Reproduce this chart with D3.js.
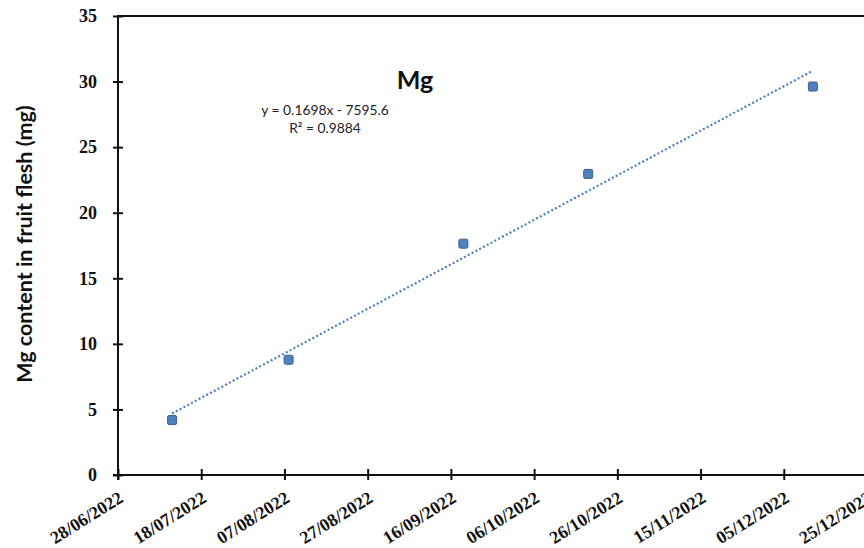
<!DOCTYPE html>
<html>
<head>
<meta charset="utf-8">
<script src="https://cdn.jsdelivr.net/npm/d3@7"></script>
<style>
  html, body { margin: 0; padding: 0; background: #fff; overflow: hidden; }
  svg { display: block; }
</style>
</head>
<body>
<svg id="chart" width="864" height="548"></svg>
<script>
// Sampling dates and magnesium content of the fruit flesh
const sampleDates = ["11/07/2022", "08/08/2022", "19/09/2022", "19/10/2022", "12/12/2022"];
const mgValues = [4.19, 8.79, 17.64, 22.96, 29.62];

// Axis ticks
const xTickLabels = ["28/06/2022", "18/07/2022", "07/08/2022", "27/08/2022", "16/09/2022",
                     "06/10/2022", "26/10/2022", "15/11/2022", "05/12/2022", "25/12/2022"];
const yTickValues = [0, 5, 10, 15, 20, 25, 30, 35];

const titleText = "Mg";
const yAxisTitle = "Mg content in fruit flesh (mg)";
const equationLines = ["y = 0.1698x - 7595.6", "R\u00B2 = 0.9884"];

const parse = d3.utcParse("%d/%m/%Y");
const points = sampleDates.map((d, i) => ({ date: parse(d), value: mgValues[i] }));
const xTicks = xTickLabels.map(parse);

const svg = d3.select("#chart");
const plot = { left: 118, top: 16, right: 867, bottom: 475 };

const x = d3.scaleUtc()
  .domain([xTicks[0], xTicks[xTicks.length - 1]])
  .range([plot.left, plot.right]);
const y = d3.scaleLinear()
  .domain([0, 35])
  .range([plot.bottom, plot.top]);

// Plot frame (right side runs past the visible area)
svg.append("rect")
  .attr("x", plot.left).attr("y", plot.top)
  .attr("width", plot.right - plot.left + 40)
  .attr("height", plot.bottom - plot.top)
  .attr("fill", "none").attr("stroke", "#111").attr("stroke-width", 2);

// Y axis
const yAxis = svg.append("g")
  .attr("transform", `translate(${plot.left},0)`)
  .call(d3.axisLeft(y).tickValues(yTickValues).tickFormat(d3.format("d")).tickSizeOuter(0).tickPadding(15));
yAxis.select(".domain").attr("stroke", "#111").attr("stroke-width", 2)
  .attr("d", `M0,${plot.top}V${plot.bottom + 5}`);
yAxis.selectAll(".tick line").attr("x1", -5).attr("x2", 5).attr("stroke", "#111").attr("stroke-width", 2);
yAxis.selectAll(".tick text")
  .attr("font-family", "'Liberation Serif', 'Times New Roman', serif")
  .attr("font-weight", "bold").attr("font-size", 18).attr("fill", "#111");

// X axis
const xAxis = svg.append("g")
  .attr("transform", `translate(0,${plot.bottom})`)
  .call(d3.axisBottom(x).tickValues(xTicks).tickFormat(d3.utcFormat("%d/%m/%Y")).tickSizeOuter(0));
xAxis.select(".domain").attr("stroke", "#111").attr("stroke-width", 2)
  .attr("d", `M${plot.left - 5},0H${plot.right + 40}`);
xAxis.selectAll(".tick line").attr("y1", -6).attr("y2", 5).attr("stroke", "#111").attr("stroke-width", 2);
xAxis.selectAll(".tick text")
  .attr("font-family", "'Liberation Serif', 'Times New Roman', serif")
  .attr("font-weight", "bold").attr("font-size", 18).attr("fill", "#111")
  .attr("text-anchor", "end")
  .attr("dy", 0).attr("y", 0)
  .attr("transform", "translate(6,26) rotate(-32)");

// Linear trend through the measured points
const t0 = points[0].date.getTime();
const dayOf = d => (d.getTime() - t0) / 864e5;
const xs = points.map(p => dayOf(p.date));
const ys = points.map(p => p.value);
const mx = d3.mean(xs), my = d3.mean(ys);
const slope = d3.sum(xs, (v, i) => (v - mx) * (ys[i] - my)) / d3.sum(xs, v => (v - mx) * (v - mx));
const intercept = my - slope * mx;
const trend = [points[0], points[points.length - 1]].map(p => ({
  date: p.date, value: intercept + slope * dayOf(p.date)
}));

svg.append("path")
  .datum(trend)
  .attr("d", d3.line().x(d => x(d.date)).y(d => y(d.value)))
  .attr("fill", "none")
  .attr("stroke", "#4a7fc1")
  .attr("stroke-width", 2.2)
  .attr("stroke-dasharray", "2,2.3");

// Markers
const size = 9;
svg.append("g").selectAll("rect")
  .data(points)
  .join("rect")
  .attr("x", d => x(d.date) - size / 2)
  .attr("y", d => y(d.value) - size / 2)
  .attr("width", size).attr("height", size)
  .attr("rx", 1.5)
  .attr("fill", "#4f81bd")
  .attr("stroke", "#3d5f8c").attr("stroke-width", 1);

// Chart title
svg.append("text")
  .attr("x", 415).attr("y", 89)
  .attr("text-anchor", "middle")
  .attr("font-family", "Lato, 'Open Sans', sans-serif")
  .attr("font-weight", "bold").attr("font-size", 25).attr("fill", "#111")
  .text(titleText);

// Regression equation
svg.append("g").selectAll("text")
  .data(equationLines)
  .join("text")
  .attr("x", 325).attr("y", (d, i) => 115 + i * 17.5)
  .attr("text-anchor", "middle")
  .attr("font-family", "Lato, 'Open Sans', sans-serif")
  .attr("font-size", 13.8).attr("fill", "#222")
  .text(d => d);

// Y axis title
svg.append("text")
  .attr("transform", `translate(32,${(98 + 390) / 2}) rotate(-90)`)
  .attr("text-anchor", "middle")
  .attr("font-family", "Lato, 'Open Sans', sans-serif")
  .attr("font-weight", "bold").attr("font-size", 21.5).attr("fill", "#111")
  .text(yAxisTitle);
</script>
</body>
</html>
